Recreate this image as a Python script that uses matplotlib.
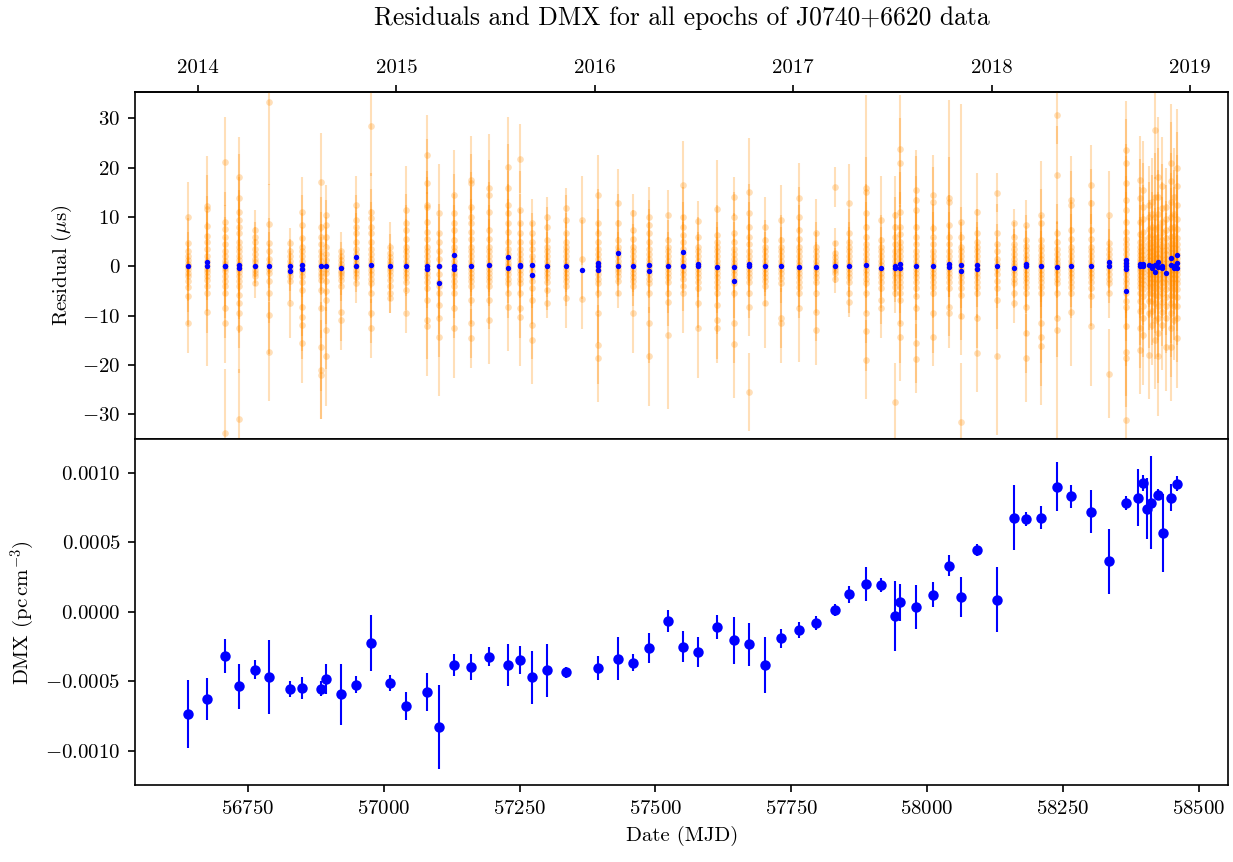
import matplotlib
matplotlib.use('Agg')
import matplotlib.pyplot as plt
import numpy as np

# fonts: computer modern look without latex
plt.rcParams.update({
    'font.family': 'serif',
    'font.serif': ['cmr10'],
    'mathtext.fontset': 'cm',
    'axes.formatter.use_mathtext': True,
    'font.size': 10,
})

# --- DMX values (bottom panel) ---
dmx_mjd = [56640, 56675, 56708, 56734, 56762, 56789, 56828, 56850, 56885, 56893,
           56922, 56948, 56977, 57012, 57040, 57079, 57102, 57130, 57160, 57194,
           57228, 57250, 57272, 57300, 57336, 57395, 57432, 57458, 57489, 57523,
           57551, 57579, 57614, 57644, 57673, 57702, 57731, 57765, 57795, 57830,
           57857, 57887, 57915, 57942, 57950, 57979, 58012, 58040, 58063, 58093,
           58129, 58160, 58182, 58210, 58240, 58266, 58302, 58336, 58366, 58389,
           58398, 58405, 58413, 58426, 58434, 58449, 58460]
dmx_val = [-7.37, -6.29, -3.17, -5.36, -4.17, -4.72, -5.58, -5.48, -5.53, -4.86,
           -5.94, -5.25, -2.28, -5.13, -6.80, -5.79, -8.28, -3.84, -3.98, -3.24,
           -3.84, -3.48, -4.72, -4.22, -4.36, -4.07, -3.38, -3.67, -2.59, -0.68,
           -2.52, -2.90, -1.11, -2.06, -2.35, -3.81, -1.92, -1.33, -0.82, 0.11,
           1.25, 1.97, 1.92, -0.30, 0.66, 0.34, 1.23, 3.31, 1.04, 4.46,
           0.85, 6.77, 6.68, 6.77, 9.00, 8.30, 7.20, 3.62, 7.80, 8.21,
           9.26, 7.42, 7.85, 8.42, 5.68, 8.21, 9.21]  # 1e-4 pc cm^-3
dmx_err = [2.42, 1.51, 1.24, 1.63, 0.66, 2.67, 0.57, 0.81, 0.55, 1.08,
           2.21, 0.59, 2.01, 0.57, 1.00, 1.38, 3.03, 0.77, 0.91, 0.67,
           1.52, 1.00, 1.90, 1.90, 0.41, 0.88, 1.56, 0.62, 1.08, 0.80,
           1.13, 1.09, 0.86, 1.70, 1.54, 2.01, 0.68, 0.59, 0.50, 0.43,
           0.63, 1.22, 0.48, 2.52, 1.33, 1.60, 0.87, 0.77, 1.43, 0.43,
           2.33, 2.37, 0.52, 0.82, 1.76, 0.82, 1.54, 2.33, 0.50, 2.06,
           0.56, 2.19, 3.37, 0.37, 2.81, 1.00, 0.55]

# --- residuals (top panel), one entry per observing epoch ---
epoch_mjd = [56640, 56675, 56708, 56734, 56762, 56789, 56828, 56850, 56885, 56893,
             56922, 56948, 56977, 57012, 57040, 57079, 57102, 57130, 57160, 57194,
             57228, 57250, 57272, 57300, 57336, 57364, 57395, 57432, 57458, 57489,
             57523, 57551, 57579, 57614, 57644, 57673, 57702, 57731, 57765, 57795,
             57830, 57857, 57887, 57915, 57942, 57950, 57979, 58012, 58040, 58063,
             58093, 58129, 58160, 58182, 58210, 58240, 58266, 58302, 58336, 58366,
             58392, 58398, 58408, 58414, 58420, 58426, 58432, 58440, 58449, 58454, 58461]

toa_res = [
    "10 4.7 3 2 1.2 0.5 0 -0.6 -1.3 -2 -3 -4.2 -6 -11.6",
    "12.3 11.6 8.2 6.2 5 3.5 2 1 0.3 -0.5 -1.2 -2 -2.8 -4 -5.5 -9.2",
    "21.2 9 7.5 6 4.5 3 2 1 0.4 -0.3 -1 -2 -3 -4 -5.5 -8.5 -11.6 -33.9",
    "18.2 13.8 11.1 9.4 8 6.7 5 4 3 2 1.2 0.5 0 -0.6 -1.2 -2 -3 -4.1 -5.8 -7.5 -9.5 -12.6 -30.9",
    "7.4 6 5 3.5 2.5 1.5 0.8 0 -0.7 -1.4 -2 -3.4",
    "33.4 8.6 4.7 3 1.5 0.5 -0.5 -1.4 -3 -5.5 -9.9 -17.3",
    "4.7 3 2 1 0.3 -0.5 -1.2 -2 -3 -7.5",
    "11 8.4 5.7 4 3 2 1 0.3 -0.5 -1.2 -2 -3.2 -4.8 -8.2 -10.2 -11.9 -15.6",
    "17 8 6 4.5 3 2 1 0.3 -0.5 -1.3 -2 -2.8 -4.8 -8.5 -16.3 -21 -22",
    "10.4 8.4 6 4 2.5 1.2 0.3 -0.6 -1.4 -3 -5 -6.8 -12.9 -18.3",
    "3 2 1.2 0.5 -0.2 -1 -1.4 -2 -2.8 -4 -9.2 -10.9",
    "12.4 9.4 8 6.7 5 3.5 2.5 1.5 0.7 0 -0.7 -1.4 -2.2 -3.4",
    "28.4 11 9.7 8 6.7 5 3.5 2.5 1.5 0.7 0 -0.7 -1.5 -2.5 -3.5 -5.5 -9.5 -12.6",
    "4 2.6 1.8 1 0.4 -0.3 -1 -1.8 -2.8 -4 -5.5 -6.5",
    "11.4 8.7 7.4 5.5 4 3 2 1 0.3 -0.5 -1.3 -2.2 -3.1 -4.8 -9.5",
    "22.6 16.8 12.4 12.1 9 7 5.5 4 3 2 1 0.3 -0.5 -1.3 -2.2 -3.2 -4.5 -6.8 -10.9 -12.2",
    "10.7 6.7 5 3 1.5 0 -1.5 -3.1 -4 -5.5 -7.8 -10.5 -14.3",
    "14.5 10.7 8.7 7.4 5.3 4 3 2 1 0.3 -0.5 -1.3 -2 -3 -4 -5.5 -8.5 -12.6",
    "17.5 16.8 12.1 10 8.7 7 5.5 4 3 2 1 0.3 -0.5 -1.3 -2.2 -3 -4.1 -6.8 -11.6 -14.6",
    "15.8 14.5 11.1 7.4 5.5 4 3 2 1 0.3 -0.5 -1.3 -2.2 -3 -4.1 -6.8 -10.9",
    "20.2 15.8 12.4 10.7 8.7 7 5 3.5 2.5 1.5 0.7 0 -0.7 -1.5 -2.5 -3.4 -5.5 -8.2",
    "21.8 11.4 8.7 6.7 5 3.5 2.5 1.5 0.7 0 -0.7 -1.5 -2.5 -3.5 -5.5 -8.5 -10.2",
    "8.7 6.7 5 3.5 2 1 0 -1 -2 -3 -4.5 -6.8 -11.9 -14.9",
    "10 8 5.3 4 3 2 1 0.3 -0.5 -1.3 -2.2 -3.2 -4.8 -7.5",
    "11.8 9.4 6.7 5 4 3 2 1 0.3 -0.5 -1.3 -2.2 -3 -4.1 -6.5",
    "9.3 1.4 -6.7",
    "14.5 8.7 6.7 5 3.5 2.5 1.5 0.7 0 -0.7 -1.5 -2.5 -3.5 -5.5 -9.5 -15.9 -18.6",
    "12.8 8.7 5.3 4 3 2 1 0.3 -0.5 -1.2 -2 -3 -5.5",
    "10.7 7.4 5.5 4 3 2 1 0.3 -0.5 -1.3 -2.2 -3 -4.1 -9.5",
    "10 8.4 6.7 5 3.5 2.5 1.5 0.7 0 -0.7 -1.5 -2.5 -3.5 -5.5 -11.6 -18.3",
    "10.4 5.3 4 3 2 1 0.3 -0.5 -1.3 -2.2 -3.2 -5.5 -7.2 -13.9",
    "16.5 10 8 6.4 5 3.5 2.5 1.5 0.7 0 -0.7 -1.5 -2.5 -4.1 -5.5",
    "9.2 6 4 3 2 1 0.3 -0.5 -1.3 -2.2 -3.2 -4.5 -7.5 -12.6",
    "11.6 6.4 5 4 3 2 1 0.3 -0.5 -1.3 -2.2 -3.2 -4.2 -5.5 -7.8 -10.9 -12.6",
    "14.1 10 6.7 5 3.5 2.5 1.5 0.7 0 -0.7 -1.5 -2.5 -3.5 -5.5 -11.6 -15.8",
    "15 10.7 8 6 4.5 3 2 1 0.3 -0.5 -1.3 -2.2 -3.2 -5.5 -8.2 -25.5",
    "8 5.3 4 3 2 1 0.3 -0.5 -1.3 -2.2 -3 -4.1 -7.5",
    "9.4 5.3 4 3 2 1 0.3 -0.5 -1.3 -2.3 -3.4 -10.5 -11.6",
    "13.9 10 7.4 5.5 4 3 2 1 0.3 -0.5 -1.3 -2.2 -3.2 -4.2 -5.5 -8.5",
    "6.7 4 3 2 1 0.3 -0.5 -1.3 -2.2 -3.2 -5.5 -9.2 -13",
    "16.1 4.7 2.6 1.8 1 0.4 -0.2 -0.8 -1.4 -2.5",
    "12.8 6.7 5 4 3 2 1 0.3 -0.5 -1.3 -2.2 -3.2 -5.5 -7.2",
    "15.8 15.1 10.7 8 6 4.5 3.5 2.5 1.5 0.7 0 -0.7 -1.5 -2.5 -3.5 -5.5 -9.5 -13.2 -19",
    "9.4 5.3 4 3 2 1 0.3 -0.5 -1.3 -2.2 -3.2 -4.5 -6.8 -8.5",
    "10.4 8 6 4.5 3 2 1 0.3 -0.5 -1.3 -2.2 -3.2 -4.2 -5.5 -27.6",
    "23.7 21 11.1 8 6.5 5 4 3 2 1 0.3 -0.5 -1.3 -2.2 -3.2 -4.2 -5.5 -6.8 -11.6 -14.3",
    "15.5 13.4 11.4 8 6 4.5 3 2 1 0.3 -0.5 -1.3 -2.2 -3.2 -4.5 -6 -8.5 -15.6 -18.8",
    "14.5 13.1 7.7 6 4.5 3 2 1 0.3 -0.5 -1.3 -2.2 -3.2 -4.2 -5.5 -9.5 -14.3",
    "13.8 13.1 8.4 6 4.5 3 2 1 0.3 -0.5 -1.3 -2.2 -3.2 -4.5 -8.2 -9.5",
    "9 6 4 3 2 1 0.3 -0.5 -1.3 -2.2 -3.2 -4.5 -5.8 -10 -31.6",
    "10.9 6.7 5 4 3 2 1 0.3 -0.5 -1.3 -2.2 -3.2 -4.2 -5.5 -10.5 -17.6",
    "14.9 6.7 4.5 3 1.5 0.4 -0.5 -1.5 -3 -4.5 -6.8 -18.3",
    "8.7 6 4.5 3.5 2.5 1.5 0.7 0 -0.7 -1.5 -2.5 -3.5 -5.5 -7.5",
    "8.4 5.3 4.2 3.2 2.3 1.5 0.7 0 -0.7 -1.5 -2.3 -3.2 -4.2 -5.5 -8.2 -13.6 -18.6",
    "10.4 8.7 5.3 4.2 3.2 2.3 1.5 0.7 0 -0.7 -1.5 -2.3 -3.2 -4.2 -5.5 -11.6 -14.3 -16.1",
    "30.7 18.5 6.7 5 3.5 2.5 1.5 0.7 0 -0.7 -1.5 -2.5 -3.5 -5.5 -10.5 -12.9",
    "13.4 12.4 7.4 5.5 4 3 2 1 0.3 -0.5 -1.3 -2.2 -3.2 -4.2 -5.5 -9.2",
    "16.5 12.8 7.4 5.5 4 3 2 1 0.3 -0.5 -1.3 -2.2 -3.2 -4.5 -6.1 -12.2",
    "10.4 4.7 3.5 2.5 1.5 0.5 -0.5 -1.5 -2.5 -3.5 -5.5 -21.8",
    "23.6 20.9 16.8 13.4 11.4 9 7 5.5 4.5 3.5 2.5 1.5 0.7 0 -0.7 -1.5 -2.5 -3.5 -4.5 -5.5 -7 -8.2 -12.2 -17.3 -18.6 -31.1",
    "17.5 13.8 9 6.5 5 4 3 2.2 1.5 0.8 0.2 -0.4 -1 -1.7 -2.5 -3.3 -4.2 -5.5 -7 -9 -12.6 -17",
    "15.5 12 9.5 7 5.5 4.3 3.2 2.3 1.5 0.8 0.1 -0.5 -1.2 -2 -2.8 -3.7 -4.7 -6 -8 -10.5 -14",
    "12.4 10 7.5 6 4.8 3.7 2.8 2 1.2 0.5 -0.2 -0.9 -1.6 -2.4 -3.3 -4.3 -5.5 -7 -9.5 -18",
    "13 10.5 8 6.3 5 3.9 3 2.1 1.3 0.6 -0.1 -0.8 -1.5 -2.3 -3.2 -4.2 -5.4 -7 -9 -12",
    "27.6 14 10 7.5 5.8 4.5 3.4 2.5 1.6 0.8 0 -0.8 -1.6 -2.5 -3.4 -4.5 -5.8 -7.5 -10.9 -15",
    "18.2 14 10.5 8 6 4.6 3.5 2.5 1.6 0.8 0 -0.8 -1.6 -2.5 -3.5 -4.6 -6 -8 -10.5 -13.6 -18.3",
    "16.2 11.8 9 7 5.4 4.2 3.2 2.3 1.5 0.7 0 -0.7 -1.5 -2.3 -3.2 -4.2 -5.5 -7.2 -9.2 -12",
    "12 9.5 7.3 5.7 4.4 3.3 2.4 1.5 0.7 0 -0.8 -1.6 -2.5 -3.5 -4.7 -6.2 -8 -10.5 -16.3",
    "20.9 17.2 13 10 7.8 6 4.7 3.6 2.6 1.7 0.9 0.1 -0.7 -1.5 -2.4 -3.4 -4.5 -5.8 -7.5 -9.5 -12.5 -16.3",
    "14 10.5 8 6.2 4.8 3.6 2.6 1.7 0.9 0.1 -0.7 -1.5 -2.4 -3.4 -4.6 -6 -8 -11",
    "19.9 16.2 12.5 9.5 7.5 5.8 4.5 3.4 2.5 1.6 0.8 0 -0.8 -1.6 -2.5 -3.5 -4.7 -6.2 -8 -10.5 -14.6",
]

toa_err = [
    "7 5 4 3 3 2 2 2 3 3 4 5 6 6",
    "10 7 6 5 4 3 3 2 2 2 3 3 4 5 8 11",
    "9 6 5 4 4 3 3 2 2 2 2 3 3 4 5 6 8 13",
    "8 9 7 6 5 5 4 4 3 3 2 2 2 2 2 3 3 4 5 6 7 9 10",
    "4 3 3 2 2 2 1.5 1.5 1.5 2 2 3",
    "17 8 5 4 3 2 2 3 4 6 8 10",
    "3 2.5 2 2 2 2 2 3 4 7",
    "7 6 5 4 3 3 2 2 2 2 3 3 4 6 7 7 8",
    "10 6 5 4 3 3 2 2 2 2 3 3 4 6 9 10 9",
    "6 5 4 4 3 2 2 2 3 3 4 5 8 10",
    "4 3 2 2 2 2 2 2 3 3 6 6",
    "6 5 4 4 3 3 2 2 2 2 2 2 3 4",
    "10 8 6 5 5 4 4 3 3 2 2 2 3 3 4 5 6 6",
    "5 4 3 3 2 2 2 3 3 3 4 3",
    "9 6 5 4 4 3 3 2 2 2 2 3 3 4 4",
    "8 9 7 6 6 5 4 4 3 3 2 2 2 2 3 3 4 5 8 10",
    "10 6 5 4 3 3 3 3 4 5 6 8 12",
    "9 8 6 5 4 4 3 3 2 2 2 2 3 3 4 5 6 10",
    "9 6 7 6 5 5 4 4 3 3 2 2 2 2 3 3 4 5 7 6",
    "11 7 6 5 4 4 3 3 2 2 2 2 3 3 4 6 9",
    "10 9 7 6 5 5 4 3 3 2 2 2 2 3 3 4 5 9",
    "7 8 6 5 4 3 3 2 2 2 2 2 3 3 4 6 10",
    "5 4 4 3 3 2 2 2 3 3 4 5 7 9",
    "4 4 4 3 3 2 2 2 2 2 3 3 4 3",
    "4 5 4 4 3 3 2 2 2 2 2 3 3 4 6",
    "9 8 6",
    "8 7 5 4 4 3 3 2 2 2 2 3 3 4 6 8 9",
    "7 6 4 3 3 2 2 2 2 2 2 3 3",
    "4 4 3 3 3 2 2 2 2 2 3 3 4 8",
    "6 5 5 4 4 3 3 2 2 2 2 3 3 4 8 10",
    "5 4 3 3 2 2 2 2 2 3 3 4 5 15",
    "9 6 5 4 4 3 3 2 2 2 2 3 3 5 8",
    "4 4 3 3 2 2 2 2 2 3 3 4 5 10",
    "10 6 4 4 3 3 2 2 2 2 3 3 3 4 6 8 7",
    "4 5 4 4 3 3 2 2 2 2 2 3 3 5 8 11",
    "11 6 5 4 4 3 3 2 2 2 2 3 3 5 6 8",
    "6 4 3 3 2 2 2 2 2 3 3 4 9",
    "7 5 4 3 2 2 2 2 2 3 4 6 8",
    "7 6 5 4 4 3 3 2 2 2 2 3 3 4 5 11",
    "7 5 4 3 2 2 2 2 3 3 4 6 7",
    "4 3 2.5 2 2 1.5 1.5 2 2 3",
    "8 5 4 4 3 3 2 2 2 2 3 3 4 3",
    "19 7 6 5 4 4 3 3 3 2 2 2 3 3 3 4 6 8 8",
    "9 5 4 3 3 2 2 2 2 3 3 4 5 6",
    "8 6 5 4 4 3 3 2 2 2 3 3 3 4 8",
    "11 9 8 7 6 5 4 4 3 3 2 2 2 3 3 3 4 5 8 9",
    "8 9 7 6 5 4 4 3 3 2 2 2 3 3 4 5 6 8 7",
    "8 7 5 5 4 3 3 2 2 2 2 3 3 4 5 8 6",
    "20 9 6 5 4 4 3 3 2 2 2 3 3 4 6 7",
    "24 6 5 4 3 3 2 2 2 3 3 4 5 8 12",
    "8 5 4 4 3 3 2 2 2 2 3 3 4 5 6 8",
    "4 6 4 3 3 2 2 3 3 4 6 16",
    "3 3 3 3 2 2 2 2 2 2 2 3 3 4",
    "5 5 4 4 3 3 2 2 2 2 3 3 4 4 6 8 9",
    "11 7 5 5 4 3 3 2 2 2 3 3 4 4 5 8 10 12",
    "6 10 6 4 4 3 3 2 2 2 2 3 3 5 8 22",
    "9 7 6 5 4 3 3 2 2 2 2 3 3 4 5 11",
    "8 7 6 5 4 3 3 2 2 2 2 3 3 4 6 12",
    "9 5 4 3 3 2 2 3 3 4 5 9",
    "10 9 8 9 7 6 6 5 5 4 4 3 3 3 3 3 4 4 5 5 6 7 8 9 10 12",
    "9 8 7 6 5 5 4 4 3 3 3 3 3 3 4 4 5 5 6 7 8 9",
    "10 9 7 6 5 5 4 4 3 3 3 3 3 3 4 4 5 6 7 8 10",
    "8 7 6 5 5 4 4 3 3 3 3 3 3 3 4 4 5 6 7 9",
    "9 8 7 6 5 5 4 4 3 3 3 3 3 4 4 5 5 6 7 8",
    "10 9 8 7 6 5 5 4 4 3 3 3 4 4 4 5 5 6 8 10",
    "12 10 9 7 6 5 5 4 4 3 3 3 4 4 4 5 6 7 8 10 12",
    "10 9 8 7 6 5 5 4 4 3 3 3 3 4 4 5 5 6 7 9",
    "8 7 6 5 5 4 4 3 3 3 3 3 4 4 5 5 6 7 9",
    "12 12 10 9 8 7 6 5 5 4 4 4 4 4 5 5 6 7 8 9 10 11",
    "10 9 8 7 6 5 5 4 4 4 4 4 4 5 5 6 7 8",
    "12 11 10 9 8 7 6 5 5 4 4 4 4 4 5 5 6 7 8 9 10",
]

# epoch-averaged residuals (blue dots), one string per epoch
avg_res = [
    "0", "0.9 0", "0 0", "0.3 -0.3", "0", "0", "0 -0.9", "0.2 -0.6", "0", "0",
    "-0.4", "1.8 0", "0.2", "0", "0", "0 -0.5", "0 -3.3", "2.3 0 -0.6", "0.1", "0.2",
    "1.9 -0.4", "0.3 0", "0.3 -1.8", "0", "0", "-0.7", "0.6 0 -0.7", "2.7 0.1", "0", "0.3 -0.9",
    "0", "2.8 0", "0.5 0", "-0.1", "-0.2 -3.0", "0.5 0", "0.1", "0", "-0.1", "-0.1",
    "0", "0", "0.3", "-0.4", "0 -0.3", "0.5 -0.4", "0", "0", "0.5 -0.2", "0.3 -0.9",
    "0.3 -0.6", "0", "-0.3", "0.4 0", "0", "-0.2", "0", "0", "0.8 0", "1.3 0.6 0 -0.6 -5.1",
    "0.1 0.4", "0.5 0", "0.2", "0.1 -0.3", "-1.1 0.2", "0.9 -0.1", "0.1 -0.4", "-1.3", "1.6 0.3", "0.1 -0.4",
    "2.2 -0.4 0.6",
]

year_ticks = [2014, 2015, 2016, 2017, 2018, 2019]

# flatten the per-epoch strings
toa_x, toa_y, toa_e = [], [], []
for m, rs, es in zip(epoch_mjd, toa_res, toa_err):
    r = [float(v) for v in rs.split()]
    e = [float(v) for v in es.split()]
    toa_x += [m] * len(r)
    toa_y += r
    toa_e += e
avg_x, avg_y = [], []
for m, s in zip(epoch_mjd, avg_res):
    vals = [float(v) for v in s.split()]
    avg_x += [m] * len(vals)
    avg_y += vals

fig = plt.figure(figsize=(1233 / 150, 862 / 150), dpi=150)
ax1 = fig.add_axes([0.1095, 0.4904, 0.8868, 0.4032])
ax2 = fig.add_axes([0.1095, 0.0888, 0.8868, 0.4016], sharex=ax1)

# residuals
ax1.errorbar(toa_x, toa_y, yerr=toa_e, fmt='o', color='darkorange', ms=3.2,
             mew=0, elinewidth=1.0, alpha=0.28, zorder=1)
ax1.plot(avg_x, avg_y, 'o', color='blue', ms=2.6, mew=0, zorder=3)
ax1.set_ylim(-35.1, 35.4)
ax1.set_ylabel(r'Residual ($\mu$s)')
ax1.tick_params(axis='x', bottom=False, labelbottom=False)

# calendar years on the top axis
mjd2yr = lambda m: 2014 + (np.asarray(m) - 56658.0) / 365.25
yr2mjd = lambda y: 56658.0 + (np.asarray(y) - 2014) * 365.25
top = ax1.secondary_xaxis('top', functions=(mjd2yr, yr2mjd))
top.set_xticks(year_ticks)
top.set_xticklabels([str(y) for y in year_ticks])

# DMX
dmx = np.array(dmx_val) * 1e-4
dmx_e = np.array(dmx_err) * 1e-4
ax2.errorbar(dmx_mjd, dmx, yerr=dmx_e, fmt='o', color='blue', ms=4,
             elinewidth=1, capsize=0)
ax2.set_ylim(-0.00125, 0.00124)
ax2.set_yticks([-0.001, -0.0005, 0, 0.0005, 0.001])
ax2.set_ylabel(r'DMX (pc$\,$cm$^{-3}$)')
ax2.set_xlabel('Date (MJD)')
ax2.set_xlim(56542, 58555)

fig.text(0.5529, 1 - 18 / 862, 'Residuals and DMX for all epochs of J0740+6620 data',
         ha='center', va='center', fontsize=12.3)

plt.savefig('out.png', dpi=150)
